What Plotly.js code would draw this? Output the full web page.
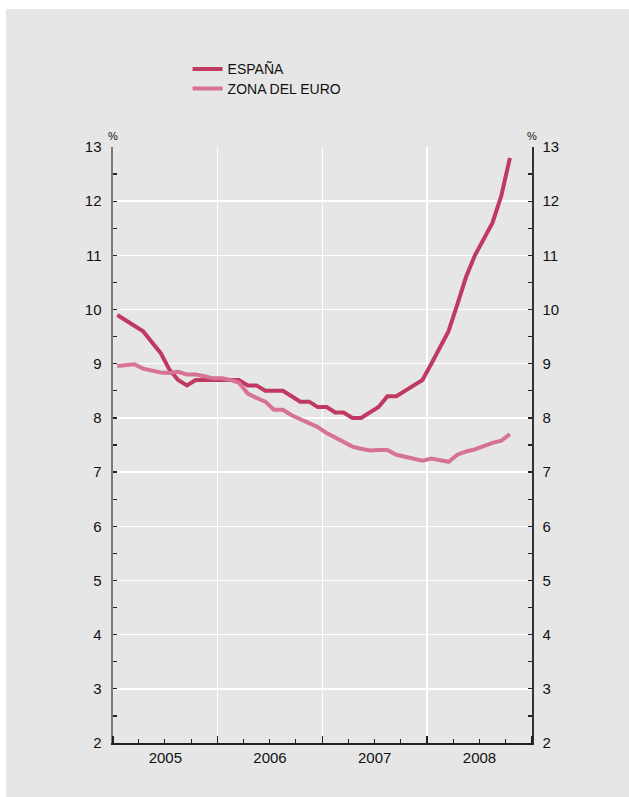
<!DOCTYPE html>
<html>
<head>
<meta charset="utf-8">
<script src="https://cdn.plot.ly/plotly-3.0.1.min.js"></script>
<style>
  html, body { margin: 0; padding: 0; background: #ffffff; }
  #chart { position: absolute; left: 6px; top: 9px; width: 623px; height: 788px; }
</style>
</head>
<body>
<div id="chart"></div>
<script>
// Monthly dates, Jan 2005 - Oct 2008 (mid-month)
const months = [
  "2005-01-16","2005-02-15","2005-03-16","2005-04-16","2005-05-16","2005-06-16",
  "2005-07-16","2005-08-16","2005-09-16","2005-10-16","2005-11-16","2005-12-16",
  "2006-01-16","2006-02-15","2006-03-16","2006-04-16","2006-05-16","2006-06-16",
  "2006-07-16","2006-08-16","2006-09-16","2006-10-16","2006-11-16","2006-12-16",
  "2007-01-16","2007-02-15","2007-03-16","2007-04-16","2007-05-16","2007-06-16",
  "2007-07-16","2007-08-16","2007-09-16","2007-10-16","2007-11-16","2007-12-16",
  "2008-01-16","2008-02-15","2008-03-16","2008-04-16","2008-05-16","2008-06-16",
  "2008-07-16","2008-08-16","2008-09-16","2008-10-16"
];
const espana = [
  9.9, 9.8, 9.7, 9.6, 9.4, 9.2, 8.9, 8.7, 8.6, 8.7, 8.7, 8.7,
  8.7, 8.7, 8.7, 8.6, 8.6, 8.5, 8.5, 8.5, 8.4, 8.3, 8.3, 8.2,
  8.2, 8.1, 8.1, 8.0, 8.0, 8.1, 8.2, 8.4, 8.4, 8.5, 8.6, 8.7,
  9.0, 9.3, 9.6, 10.1, 10.6, 11.0, 11.3, 11.6, 12.1, 12.8
];
const zonaEuro = [
  8.96, 8.97, 8.99, 8.91, 8.88, 8.84, 8.83, 8.85, 8.80, 8.80, 8.77, 8.73,
  8.73, 8.70, 8.65, 8.45, 8.37, 8.30, 8.15, 8.15, 8.05, 7.98, 7.90, 7.83,
  7.72, 7.63, 7.55, 7.47, 7.43, 7.40, 7.41, 7.41, 7.32, 7.29, 7.25, 7.21,
  7.25, 7.22, 7.19, 7.32, 7.38, 7.42, 7.48, 7.54, 7.58, 7.70
];
const seriesNames = ["ESPAÑA", "ZONA DEL EURO"];
const yRange = [2, 13];
const xRange = ["2005-01-01", "2009-01-01"];

const bg = "#e6e6e6";
const fontFam = "Liberation Sans, Arial, sans-serif";

const traces = [
  { x: months, y: espana, name: seriesNames[0], type: "scatter", mode: "lines",
    line: { color: "#bf3961", width: 4 }, hoverinfo: "skip", legend: "legend" },
  { x: months, y: zonaEuro, name: seriesNames[1], type: "scatter", mode: "lines",
    line: { color: "#d67393", width: 4 }, hoverinfo: "skip", legend: "legend2" },
  // carrier for the right-hand axis (transparent)
  { x: months, y: espana, type: "scatter", mode: "lines", yaxis: "y2",
    line: { color: "rgba(0,0,0,0)", width: 0 }, hoverinfo: "skip", showlegend: false }
];

const legendBase = {
  x: 0.178, xanchor: "left", yanchor: "top",
  bgcolor: "rgba(0,0,0,0)", borderwidth: 0,
  font: { family: fontFam, size: 14, color: "#111" }
};

const layout = {
  width: 623, height: 788,
  paper_bgcolor: bg, plot_bgcolor: bg,
  margin: { l: 107, r: 97, t: 138, b: 54, pad: 0 },
  font: { family: fontFam, size: 15, color: "#111" },
  showlegend: true,
  legend: Object.assign({}, legendBase, { y: 1.157 }),
  legend2: Object.assign({}, legendBase, { y: 1.1245 }),
  xaxis: {
    type: "date", range: xRange, fixedrange: true,
    dtick: "M12", tick0: "2005-01-01", ticklabelmode: "period", tickformat: "%Y",
    ticks: "inside", ticklen: 7, tickwidth: 1.2, tickcolor: "#222",
    showgrid: true, gridcolor: "#ffffff", gridwidth: 1.5,
    showline: true, linecolor: "#222", linewidth: 2,
    minor: { dtick: "M3", tick0: "2005-01-01", ticks: "inside", ticklen: 4, tickcolor: "#222", tickwidth: 1, showgrid: false },
    zeroline: false,
    tickfont: { family: fontFam, size: 15, color: "#111" }
  },
  yaxis: {
    range: yRange, fixedrange: true, dtick: 1, tick0: 0,
    ticks: "inside", ticklen: 4, tickwidth: 1.2, tickcolor: "#222",
    showgrid: true, gridcolor: "#ffffff", gridwidth: 1.5,
    showline: true, linecolor: "#7a7a7a", linewidth: 2.5,
    minor: { dtick: 0.5, ticks: "inside", ticklen: 4, tickcolor: "#222", tickwidth: 1.2, showgrid: false },
    zeroline: false, ticklabelstandoff: 6,
    tickfont: { family: fontFam, size: 15, color: "#111" }
  },
  yaxis2: {
    range: yRange, fixedrange: true, dtick: 1, tick0: 0, overlaying: "y", side: "right",
    ticks: "inside", ticklen: 4, tickwidth: 1.2, tickcolor: "#222",
    showgrid: false, showline: true, linecolor: "#333", linewidth: 1.5,
    minor: { dtick: 0.5, ticks: "inside", ticklen: 4, tickcolor: "#222", tickwidth: 1.2, showgrid: false },
    zeroline: false, ticklabelstandoff: 6,
    tickfont: { family: fontFam, size: 15, color: "#111" }
  },
  annotations: [
    { xref: "paper", yref: "paper", x: 0, y: 1, yanchor: "bottom", xanchor: "center",
      yshift: 3, text: "%", showarrow: false, font: { family: fontFam, size: 11, color: "#111" } },
    { xref: "paper", yref: "paper", x: 1, y: 1, yanchor: "bottom", xanchor: "center",
      yshift: 3, text: "%", showarrow: false, font: { family: fontFam, size: 11, color: "#111" } }
  ]
};

Plotly.newPlot("chart", traces, layout, { staticPlot: true, displayModeBar: false });
</script>
</body>
</html>
